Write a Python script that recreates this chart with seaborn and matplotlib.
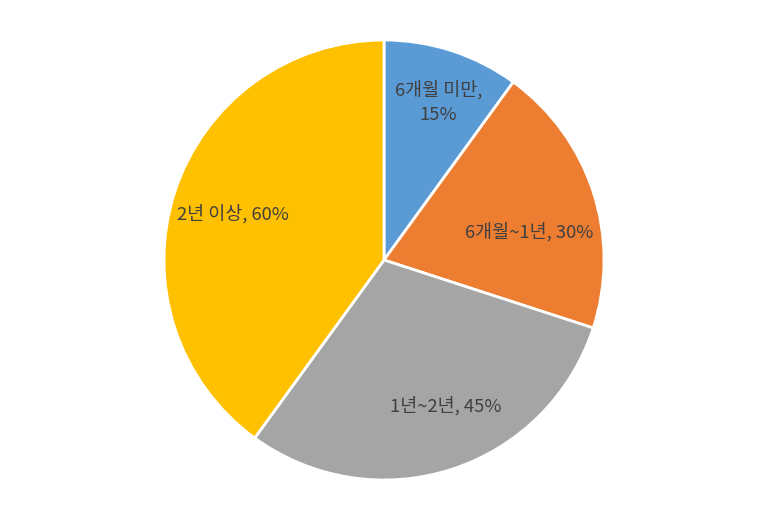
import matplotlib
matplotlib.use("Agg")
import matplotlib.pyplot as plt
import seaborn as sns
import numpy as np

categories = ["6개월 미만", "6개월~1년", "1년~2년", "2년 이상"]
values = [15, 30, 45, 60]
label_texts = ["6개월 미만,\n15%", "6개월~1년, 30%", "1년~2년, 45%", "2년 이상, 60%"]
colors = ["#5B9BD5", "#ED7D31", "#A5A5A5", "#FFC000"]
# label placement (angle offset from wedge centre in degrees, radial distance)
label_angle_shift = [-1, -7, 5, 1]
label_dist = [0.76, 0.67, 0.72, 0.72]

sns.set_theme(style="white")
plt.rcParams['font.family'] = ['Noto Sans CJK KR', 'DejaVu Sans']

fig = plt.figure(figsize=(7.69, 5.13), dpi=100)
ax = fig.add_axes([164/769, 33/513, 440/769, 440/513])
wedges, texts = ax.pie(values, labels=label_texts, colors=colors, startangle=90,
                       counterclock=False, labeldistance=0.72,
                       wedgeprops=dict(edgecolor="white", linewidth=2),
                       textprops=dict(color="#404040", fontsize=13.3, ha="center", va="center",
                                      linespacing=1.45),
                       radius=1.0)
for w, t, da, d in zip(wedges, texts, label_angle_shift, label_dist):
    mid = np.deg2rad((w.theta1 + w.theta2) / 2 + da)
    t.set_position((d * np.cos(mid), d * np.sin(mid)))
    t.set_ha("center")
    t.set_va("center")
ax.set_xlim(-1.0, 1.0)
ax.set_ylim(-1.0, 1.0)
ax.set_aspect("equal")
ax.axis("off")
fig.savefig("out.png", dpi=100, facecolor="white")
